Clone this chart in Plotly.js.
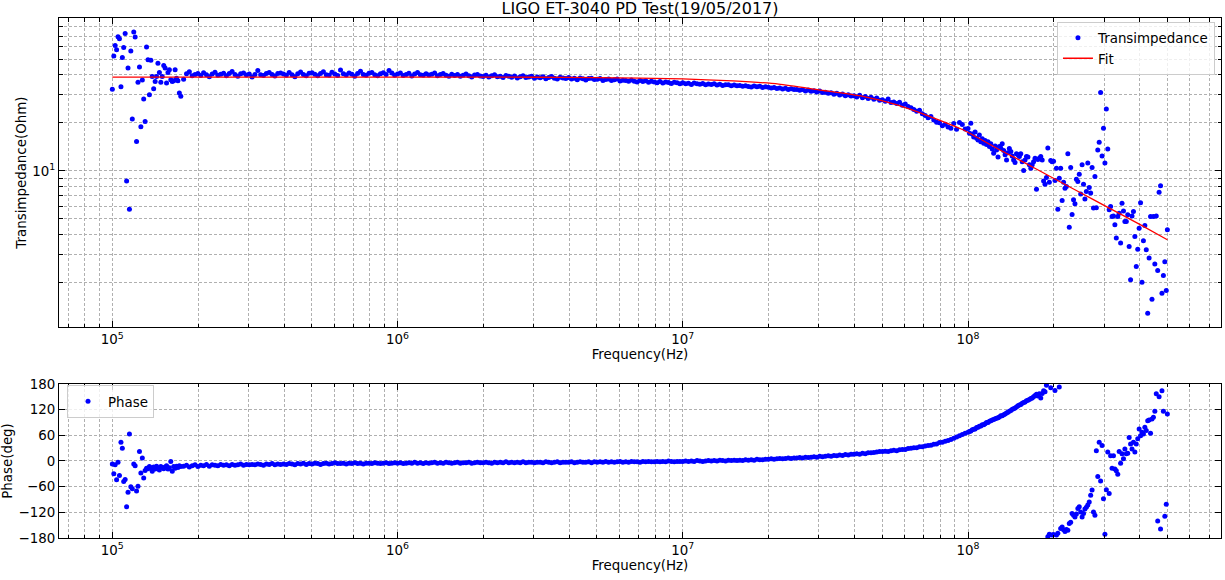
<!DOCTYPE html>
<html>
<head>
<meta charset="utf-8">
<script src="https://cdn.plot.ly/plotly-3.0.1.min.js"></script>
<style>html,body{margin:0;padding:0;background:#fff;}#chart{width:1225px;height:580px;}</style>
</head>
<body>
<div id="chart"></div>
<script>
// Frequency points (Hz)
const freq = [
1.000e5,1.012e5,1.023e5,1.035e5,1.047e5,1.059e5,1.072e5,1.084e5,1.096e5,1.109e5,
1.122e5,1.135e5,1.148e5,1.161e5,1.175e5,1.189e5,1.202e5,1.216e5,1.230e5,1.245e5,
1.259e5,1.274e5,1.288e5,1.303e5,1.318e5,1.334e5,1.349e5,1.365e5,1.380e5,1.396e5,
1.413e5,1.429e5,1.445e5,1.462e5,1.479e5,1.496e5,1.514e5,1.531e5,1.549e5,1.567e5,
1.585e5,1.603e5,1.622e5,1.641e5,1.660e5,1.679e5,1.698e5,1.718e5,1.738e5,
1.778e5,1.820e5,1.862e5,1.905e5,1.950e5,
1.995e5,2.042e5,2.089e5,2.138e5,2.188e5,2.239e5,2.291e5,2.344e5,2.399e5,2.455e5,
2.512e5,2.570e5,2.630e5,2.692e5,2.754e5,2.818e5,2.884e5,2.951e5,3.020e5,3.090e5,
3.162e5,3.236e5,3.311e5,3.388e5,3.467e5,3.548e5,3.631e5,3.715e5,3.802e5,3.890e5,
3.981e5,4.074e5,4.169e5,4.266e5,4.365e5,4.467e5,4.571e5,4.677e5,4.786e5,4.898e5,
5.012e5,5.129e5,5.248e5,5.370e5,5.495e5,5.623e5,5.754e5,5.888e5,6.026e5,6.166e5,
6.310e5,6.457e5,6.607e5,6.761e5,6.918e5,7.079e5,7.244e5,7.413e5,7.586e5,7.762e5,
7.943e5,8.128e5,8.318e5,8.511e5,8.710e5,8.913e5,9.120e5,9.333e5,9.550e5,9.772e5,
1.000e6,1.023e6,1.047e6,1.072e6,1.096e6,1.122e6,1.148e6,1.175e6,1.202e6,1.230e6,
1.259e6,1.288e6,1.318e6,1.349e6,1.380e6,1.413e6,1.445e6,1.479e6,1.514e6,1.549e6,
1.585e6,1.622e6,1.660e6,1.698e6,1.738e6,1.778e6,1.820e6,1.862e6,1.905e6,1.950e6,
1.995e6,2.042e6,2.089e6,2.138e6,2.188e6,2.239e6,2.291e6,2.344e6,2.399e6,2.455e6,
2.512e6,2.570e6,2.630e6,2.692e6,2.754e6,2.818e6,2.884e6,2.951e6,3.020e6,3.090e6,
3.162e6,3.236e6,3.311e6,3.388e6,3.467e6,3.548e6,3.631e6,3.715e6,3.802e6,3.890e6,
3.981e6,4.074e6,4.169e6,4.266e6,4.365e6,4.467e6,4.571e6,4.677e6,4.786e6,4.898e6,
5.012e6,5.129e6,5.248e6,5.370e6,5.495e6,5.623e6,5.754e6,5.888e6,6.026e6,6.166e6,
6.310e6,6.457e6,6.607e6,6.761e6,6.918e6,7.079e6,7.244e6,7.413e6,7.586e6,7.762e6,
7.943e6,8.128e6,8.318e6,8.511e6,8.710e6,8.913e6,9.120e6,9.333e6,9.550e6,9.772e6,
1.000e7,1.023e7,1.047e7,1.072e7,1.096e7,1.122e7,1.148e7,1.175e7,1.202e7,1.230e7,
1.259e7,1.288e7,1.318e7,1.349e7,1.380e7,1.413e7,1.445e7,1.479e7,1.514e7,1.549e7,
1.585e7,1.622e7,1.660e7,1.698e7,1.738e7,1.778e7,1.820e7,1.862e7,1.905e7,1.950e7,
1.995e7,2.042e7,2.089e7,2.138e7,2.188e7,2.239e7,2.291e7,2.344e7,2.399e7,2.455e7,
2.512e7,2.570e7,2.630e7,2.692e7,2.754e7,2.818e7,2.884e7,2.951e7,3.020e7,3.090e7,
3.162e7,3.236e7,3.311e7,3.388e7,3.467e7,3.548e7,3.631e7,3.715e7,3.802e7,3.890e7,
3.981e7,4.074e7,4.169e7,4.266e7,4.365e7,4.467e7,4.571e7,4.677e7,4.786e7,4.898e7,
5.012e7,5.129e7,5.248e7,5.370e7,5.495e7,5.623e7,5.754e7,5.888e7,6.026e7,6.166e7,
6.310e7,6.457e7,6.607e7,6.761e7,6.918e7,7.079e7,7.244e7,7.413e7,7.586e7,7.762e7,
7.943e7,8.128e7,8.318e7,8.511e7,8.710e7,8.913e7,9.120e7,9.333e7,9.550e7,9.772e7,
1.000e8,1.012e8,1.023e8,1.035e8,1.047e8,1.059e8,1.072e8,1.084e8,1.096e8,1.109e8,
1.122e8,1.135e8,1.148e8,1.161e8,1.175e8,1.189e8,1.202e8,1.216e8,1.230e8,1.245e8,
1.259e8,1.274e8,1.288e8,1.303e8,1.318e8,1.334e8,1.349e8,1.365e8,1.380e8,1.396e8,
1.413e8,1.429e8,1.445e8,1.462e8,1.479e8,1.496e8,1.514e8,1.531e8,1.549e8,1.567e8,
1.585e8,1.603e8,1.622e8,1.641e8,1.660e8,1.679e8,1.698e8,1.718e8,1.738e8,1.758e8,
1.778e8,1.799e8,1.820e8,1.841e8,1.862e8,1.884e8,1.905e8,1.928e8,1.950e8,1.972e8,
1.995e8,2.018e8,2.042e8,2.065e8,2.089e8,2.113e8,2.138e8,2.163e8,2.188e8,2.213e8,
2.239e8,2.265e8,2.291e8,2.317e8,2.344e8,2.371e8,2.399e8,2.427e8,2.455e8,2.483e8,
2.512e8,2.541e8,2.570e8,2.600e8,2.630e8,2.661e8,2.692e8,2.723e8,2.754e8,2.786e8,
2.818e8,2.851e8,2.884e8,2.917e8,2.951e8,2.985e8,3.020e8,3.055e8,3.090e8,3.126e8,
3.162e8,3.199e8,3.236e8,3.273e8,3.311e8,3.350e8,3.388e8,3.428e8,3.467e8,3.508e8,
3.548e8,3.589e8,3.631e8,3.673e8,3.715e8,3.758e8,3.802e8,3.846e8,3.890e8,3.936e8,
3.981e8,4.027e8,4.074e8,4.121e8,4.169e8,4.217e8,4.266e8,4.315e8,4.365e8,4.416e8,
4.467e8,4.519e8,4.571e8,4.624e8,4.677e8,4.732e8,4.786e8,4.842e8,4.898e8,4.955e8,
5.000e8
];

// Measured transimpedance magnitude (Ohm)
const transimpedance = [
32.5,52.4,61.0,57.4,69.2,67.2,33.6,51.3,59.3,72.6,
8.65,44.1,5.75,56.3,21.1,74.1,68.9,15.3,35.9,44.7,
18.9,37.1,28.2,20.4,59.7,49.7,30.0,49.4,39.0,32.7,
36.3,39.0,47.3,41.3,35.9,39.0,45.7,44.1,35.5,41.3,
43.0,37.2,36.3,36.7,43.0,38.1,36.7,30.7,29.3,
37.5,40.6,41.8,39.4,40.2,
40.8,39.6,41.2,40.0,38.9,40.5,41.5,39.8,40.3,40.9,
39.5,40.7,41.9,40.1,39.2,40.6,41.1,39.9,40.4,38.8,
40.2,42.6,40.0,39.6,40.8,41.3,40.1,39.3,40.7,41.0,
40.4,39.7,41.3,40.0,38.9,40.6,41.6,40.2,39.5,40.9,
41.2,40.3,39.4,40.7,41.8,40.0,39.8,41.5,40.5,39.6,
42.8,40.6,39.9,41.0,40.3,39.2,40.8,42.1,40.2,39.7,
40.9,41.4,40.0,39.5,40.6,41.2,40.1,42.6,41.0,39.8,
40.4,41.1,39.6,40.2,40.9,39.3,40.5,41.3,40.0,39.7,
40.6,39.9,40.3,41.0,39.4,40.1,40.7,39.8,39.2,40.3,
39.6,40.2,39.1,39.8,40.5,39.4,38.8,39.9,40.1,39.3,
39.0,39.7,38.7,39.4,40.0,38.9,39.2,38.5,39.6,39.1,
38.6,39.3,38.2,38.9,39.5,38.4,38.8,39.1,38.0,38.7,
38.3,38.9,37.8,38.5,39.0,38.1,37.7,38.6,38.2,37.9,
38.4,37.6,38.0,37.3,38.2,37.8,37.1,37.9,38.1,37.4,
37.5,37.9,36.9,37.4,37.7,36.8,37.2,37.6,36.6,37.0,
36.9,36.4,37.1,36.5,36.0,36.8,36.3,36.7,35.9,36.4,
36.1,35.7,36.3,35.5,36.0,35.8,35.3,35.9,35.6,35.2,
35.7,35.1,35.4,34.8,35.5,35.2,34.9,35.3,34.7,35.0,
34.8,35.1,34.5,34.9,34.3,34.7,34.6,34.1,34.5,34.2,
34.3,33.9,34.2,33.8,33.5,34.0,33.6,33.9,33.3,33.7,
33.4,33.0,33.3,32.8,33.1,32.6,32.9,32.4,32.7,32.3,
32.4,32.0,32.3,31.7,32.1,31.5,31.8,31.2,31.6,31.0,
31.1,30.6,30.9,30.2,30.6,29.9,30.3,29.6,30.0,29.4,
29.6,29.0,29.8,28.7,29.2,28.4,28.9,28.1,28.6,27.7,
27.9,27.3,28.2,26.8,27.0,26.4,26.9,25.8,26.2,25.3,
24.9,24.2,23.6,24.0,22.8,22.2,21.5,21.9,20.8,20.2,
20.0,19.2,19.6,18.8,18.5,19.8,18.2,20.1,19.5,18.3,
18.4,17.2,19.9,17.0,16.3,17.5,16.0,15.6,16.8,15.2,
15.9,14.9,15.5,14.6,15.2,14.2,14.8,13.7,12.9,14.3,
13.5,12.2,14.2,13.9,14.8,13.4,12.6,11.7,13.0,13.8,
13.2,12.4,11.7,11.3,12.8,12.6,12.3,12.8,11.4,10.04,
11.7,12.3,12.2,10.9,10.4,10.9,11.4,12.0,7.67,11.8,
12.0,12.3,11.7,8.65,8.25,9.08,13.9,8.49,11.6,11.4,
11.5,8.7,10.4,5.75,9.0,10.4,6.51,8.49,7.79,7.97,
12.8,4.43,10.5,5.32,6.58,6.21,8.86,8.57,9.53,7.15,
10.9,8.25,6.65,7.41,11.2,7.87,7.26,10.5,5.84,9.2,
5.88,13.5,15.1,31.0,12.4,18.5,11.2,24.4,13.7,5.7,
5.97,5.17,5.22,4.59,3.79,5.17,5.43,3.53,6.27,5.61,
4.81,4.81,5.30,3.35,2.08,5.22,5.56,3.87,2.51,3.23,
4.36,6.32,2.00,3.64,4.54,3.20,1.28,2.84,5.17,1.57,
5.17,2.61,5.22,2.37,7.33,8.06,1.71,2.21,2.69,1.78,
4.27
];

// Measured phase (deg)
const phaseDeg = [
-7,-30,-9,-44,-3,-34,44,30,-48,-43,
-107,-73,63,-60,-65,-7,-11,-70,-59,22,
-28,7,-40,-22,-17,-18,-13,-16,-24,-14,
-19,-12,-17,-21,-13,-15,-18,-14,-11,-19,
-16,-1,-24,-13,-17,-12,-15,-11,-13,
-12,-10,-14,-11,-9,
-13,-10,-11,-8,-12,-9,-10,-11,-8,-10,
-9,-11,-8,-10,-9,-7,-10,-8,-9,-8,
-9,-7,-8,-10,-7,-8,-6,-9,-7,-8,
-7,-8,-6,-7,-9,-6,-7,-5,-8,-6,
-7,-5,-6,-8,-6,-5,-7,-6,-4,-6,
-6,-5,-7,-5,-6,-4,-6,-5,-7,-5,
-5,-6,-4,-5,-6,-5,-4,-6,-5,-4,
-5,-4,-6,-5,-4,-5,-3,-5,-4,-6,
-4,-5,-4,-3,-5,-4,-5,-3,-4,-5,
-4,-3,-5,-4,-4,-3,-5,-4,-3,-4,
-4,-3,-4,-5,-3,-4,-3,-4,-2,-4,
-3,-4,-3,-4,-2,-4,-3,-3,-4,-3,
-3,-4,-2,-3,-4,-3,-2,-4,-3,-3,
-3,-2,-4,-3,-2,-3,-3,-2,-4,-2,
-3,-2,-3,-1,-3,-2,-3,-2,-1,-3,
-2,-3,-1,-2,-2,-3,-1,-2,-1,-2,
-2,-1,-2,-1,-2,0,-1,-2,-1,-1,
-1,0,-1,0,-1,1,0,-1,0,1,
0,1,0,2,1,0,2,1,2,1,
2,1,3,2,3,2,4,3,3,4,
4,5,4,5,6,5,6,7,6,7,
7,8,7,9,8,9,10,9,11,10,
11,12,11,13,12,14,13,15,14,16,
16,17,16,18,17,19,19,20,21,22,
22,23,22,24,25,24,26,27,27,29,
30,31,31,33,33,35,36,37,39,40,
43,44,46,48,50,53,56,59,62,65,
67,69,70,73,74,75,78,79,81,82,
85,85,87,90,90,93,94,96,97,99,
100,101,103,106,106,108,110,112,114,116,
118,121,122,124,126,129,131,132,135,137,
138,141,142,144,146,147,150,153,156,152,
157,147,158,164,162,177,-177,-171,171,-173,
-172,165,-173,-169,173,-158,-154,-161,-165,-160,
-162,-146,-143,-123,-127,-131,-124,-111,-107,-119,
-131,-123,-112,-108,-103,-96,-80,-68,-119,-127,
24,-36,44,-47,36,-88,-171,-67,21,-76,
12,-17,12,-19,-23,-31,22,-5,17,5,
28,17,18,55,40,28,44,21,40,52,
75,59,67,63,79,71,94,96,65,98,
102,116,157,-140,150,-159,164,116,-129,-101,
110
];

// Fit curve
const fitFreq = [1e5,1e6,3e6,5e6,1e7,1.5e7,2.17e7,3e7,4.28e7,5.64e7,7.36e7,9.6e7,1.294e8,1.5e8,2e8,2.5e8,3e8,4e8,5e8];
const fitOhm  = [38.7,38.7,38.6,38.4,37.7,36.6,35.0,32.2,29.3,25.9,21.9,18.1,13.5,11.8,8.95,7.24,6.08,4.62,3.70];

// Tick labels
const freqTickVals = [1e5,1e6,1e7,1e8];
const freqTickText = ['10<sup>5</sup>','10<sup>6</sup>','10<sup>7</sup>','10<sup>8</sup>'];
const magTickVals = [10];
const magTickText = ['10<sup>1</sup>'];
const phaseTickVals = [-180,-120,-60,0,60,120,180];

if (freq.length !== transimpedance.length || freq.length !== phaseDeg.length) {
  throw new Error('length mismatch ' + freq.length + ' ' + transimpedance.length + ' ' + phaseDeg.length);
}

const minorFreq = [];
for (let e = 4; e <= 8; e++) for (let m = 2; m <= 9; m++) minorFreq.push(m * Math.pow(10, e));
const minorMag = [];
for (let e = 0; e <= 1; e++) for (let m = 2; m <= 9; m++) minorMag.push(m * Math.pow(10, e));

const gridCol = '#b0b0b0';
const dash = '3px,2px';
const tickFont = {family: 'DejaVu Sans', size: 13.4, color: '#000'};
function baseAxis(extra) {
  return Object.assign({
    showline: true, linecolor: '#000', linewidth: 1, mirror: 'allticks',
    ticks: 'inside', ticklen: 6, tickwidth: 1, tickcolor: '#000',
    showgrid: true, gridcolor: gridCol, gridwidth: 1, griddash: dash,
    zeroline: false, tickfont: tickFont, automargin: false
  }, extra);
}
function minorAxis(vals) {
  return {tickmode: 'array', tickvals: vals, ticks: 'inside', ticklen: 3.5, tickwidth: 1, tickcolor: '#000',
          showgrid: true, gridcolor: gridCol, griddash: dash, gridwidth: 1};
}

const traces = [
  {x: freq, y: transimpedance, type: 'scatter', mode: 'markers', name: 'Transimpedance',
   marker: {color: '#0000ff', size: 5}, xaxis: 'x', yaxis: 'y', legend: 'legend'},
  {x: fitFreq, y: fitOhm, type: 'scatter', mode: 'lines', name: 'Fit',
   line: {color: '#ff0000', width: 1.3, shape: 'spline', smoothing: 0.6}, xaxis: 'x', yaxis: 'y', legend: 'legend'},
  {x: freq, y: phaseDeg, type: 'scatter', mode: 'markers', name: 'Phase',
   marker: {color: '#0000ff', size: 5}, xaxis: 'x2', yaxis: 'y2', legend: 'legend2'}
];

const xRange = [4.813, 8.887];
const layout = {
  width: 1225, height: 580,
  margin: {l: 59, r: 4, t: 18, b: 42},
  paper_bgcolor: '#fff', plot_bgcolor: '#fff',
  font: {family: 'DejaVu Sans', size: 13.4, color: '#000'},
  showlegend: true,
  title: {text: 'LIGO ET-3040 PD Test(19/05/2017)', font: {size: 16, color: '#000'},
          x: 0.5, xref: 'paper', xanchor: 'center', y: 0.985, yref: 'container', yanchor: 'middle'},
  xaxis: baseAxis({type: 'log', range: xRange, domain: [0, 1], anchor: 'y',
    tickmode: 'array', tickvals: freqTickVals, ticktext: freqTickText,
    minor: minorAxis(minorFreq),
    title: {text: 'Frequency(Hz)', font: {size: 13.4}, standoff: 2}}),
  yaxis: baseAxis({type: 'log', range: [0.0194, 1.958], domain: [0.4052, 1], anchor: 'x',
    tickmode: 'array', tickvals: magTickVals, ticktext: magTickText,
    minor: minorAxis(minorMag),
    title: {text: 'Transimpedance(Ohm)', font: {size: 13.4}, standoff: 2}}),
  xaxis2: baseAxis({type: 'log', range: xRange, domain: [0, 1], anchor: 'y2',
    tickmode: 'array', tickvals: freqTickVals, ticktext: freqTickText,
    minor: minorAxis(minorFreq),
    title: {text: 'Frequency(Hz)', font: {size: 13.4}, standoff: 2}}),
  yaxis2: baseAxis({range: [-180, 180], domain: [0, 0.2962], anchor: 'x2',
    tickmode: 'array', tickvals: phaseTickVals,
    title: {text: 'Phase(deg)', font: {size: 13.4}, standoff: 4}}),
  legend: {x: 0.9948, y: 0.993, xanchor: 'right', yanchor: 'top', xref: 'paper', yref: 'paper',
    bgcolor: 'rgba(255,255,255,0.8)', bordercolor: '#cccccc', borderwidth: 1,
    font: {size: 13.4}, tracegroupgap: 0},
  legend2: {x: 0.0069, y: 0.294, xanchor: 'left', yanchor: 'top', xref: 'paper', yref: 'paper',
    bgcolor: 'rgba(255,255,255,0.8)', bordercolor: '#cccccc', borderwidth: 1,
    font: {size: 13.4}}
};

Plotly.newPlot('chart', traces, layout, {displayModeBar: false, staticPlot: true});
</script>
</body>
</html>
